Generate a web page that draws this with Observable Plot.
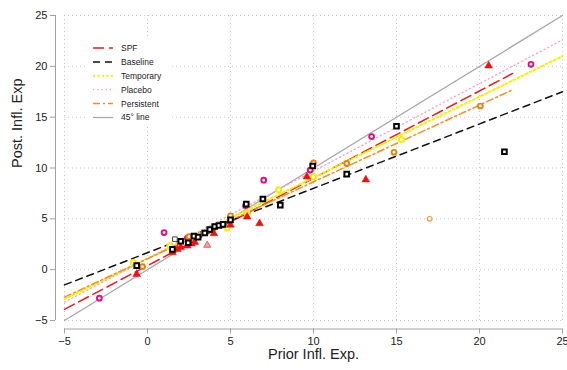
<!DOCTYPE html>
<html><head><meta charset="utf-8">
<script src="https://cdn.jsdelivr.net/npm/d3@7"></script>
<script src="https://cdn.jsdelivr.net/npm/@observablehq/plot@0.6"></script>
<style>
body{margin:0;background:#fff;}
#chart svg{font-family:"Liberation Sans",Arial,sans-serif;}
</style></head><body><div id="chart"></div>
<script>
const xTicks = [-5, 0, 5, 10, 15, 20, 25];
const yTicks = [-5, 0, 5, 10, 15, 20, 25];

// fitted lines (start / end)
const fitSeries = ["SPF", "Baseline", "Temporary", "Placebo", "Persistent", "45° line"];
const fitStartX = [-5, -5, -5, -5, -5, -5];
const fitStartY = [-3.9, -1.5, -2.9, -3.2, -2.7, -5];
const fitEndX = [22, 25, 25, 25, 22, 25];
const fitEndY = [19.3, 17.5, 21.0, 22.6, 17.7, 25];

// points
const spfX = [-0.65, 1.5, 1.8, 2.0, 2.4, 2.65, 2.85, 4.0, 5.0, 6.0, 6.75, 9.6, 13.15, 20.55];
const spfY = [-0.45, 1.7, 2.0, 2.2, 2.35, 2.55, 2.7, 3.55, 4.4, 5.2, 4.55, 9.15, 8.85, 20.05];
const spfFaintX = [3.6];
const spfFaintY = [2.4];

const baselineX = [-0.65, 1.5, 2.0, 2.45, 2.8, 3.05, 3.45, 3.75, 4.05, 4.3, 4.55, 5.0, 5.95, 6.95, 8.0, 9.95, 12.0, 15.0, 21.5];
const baselineY = [0.4, 2.0, 2.8, 2.65, 3.3, 3.2, 3.6, 3.95, 4.25, 4.35, 4.45, 4.9, 6.45, 6.95, 6.35, 10.2, 9.4, 14.1, 11.6];
const baselineFaintX = [1.65];
const baselineFaintY = [3.0];

const temporaryX = [-0.85, 1.35, 4.8, 6.0, 7.9, 10.0, 15.3];
const temporaryY = [0.7, 2.35, 4.1, 5.5, 7.85, 9.15, 12.8];

const placeboX = [-2.9, 1.0, 2.4, 4.5, 5.9, 7.0, 9.8, 13.5, 23.1];
const placeboY = [-2.8, 3.65, 3.1, 4.4, 6.3, 8.8, 9.8, 13.1, 20.2];

const persistentX = [-0.3, 2.5, 5.0, 10.0, 12.0, 14.85, 20.05];
const persistentY = [0.3, 3.25, 5.3, 10.5, 10.45, 11.55, 16.1];
const persistentFaintX = [17.0];
const persistentFaintY = [5.0];

const pts = (xs, ys) => xs.map((x, i) => ({x, y: ys[i]}));

const styles = {
  "SPF": {stroke: "#f01818", strokeWidth: 1.5, strokeDasharray: "11,5"},
  "Baseline": {stroke: "#111", strokeWidth: 1.5, strokeDasharray: "7,5"},
  "Temporary": {stroke: "#f5f000", strokeWidth: 2, strokeDasharray: "2,2.5"},
  "Placebo": {stroke: "#ff9fc0", strokeWidth: 1.3, strokeDasharray: "1.2,3"},
  "Persistent": {stroke: "#ff8a1c", strokeWidth: 1.5, strokeDasharray: "7,3,2,3"},
  "45° line": {stroke: "#a8a8a8", strokeWidth: 1.3, strokeDasharray: null}
};

const lineMarks = fitSeries.map((s, i) => Plot.line(
  [{x: fitStartX[i], y: fitStartY[i]}, {x: fitEndX[i], y: fitEndY[i]}],
  {x: "x", y: "y", ...styles[s]}
));
// draw the 45° line first
lineMarks.unshift(lineMarks.pop());

const chart = Plot.plot({
  width: 567,
  height: 370,
  marginLeft: 64,
  marginRight: 5,
  marginTop: 15,
  marginBottom: 50,
  style: {fontFamily: "Liberation Sans, Arial, sans-serif", fontSize: "11px", color: "#222", background: "#fff"},
  x: {domain: [-5, 25]},
  y: {domain: [-5, 25]},
  marks: [
    Plot.gridX(xTicks, {stroke: "#c8c8c8", strokeOpacity: 1, strokeDasharray: "1,3"}),
    Plot.gridY(yTicks, {stroke: "#c8c8c8", strokeOpacity: 1, strokeDasharray: "1,3"}),
    Plot.ruleX([-5], {dx: -9, stroke: "#a0a0a0", strokeWidth: 1}),
    Plot.ruleY([-5], {dy: 8.5, stroke: "#a0a0a0", strokeWidth: 1}),
    Plot.axisY(yTicks, {dx: -9, tickSize: 5, tickPadding: 3, fontSize: 11, label: null, stroke: "#a0a0a0", fill: "#222"}),
    Plot.axisX(xTicks, {dy: 8.5, tickSize: 5, tickPadding: 3, fontSize: 11, label: null, stroke: "#a0a0a0", fill: "#222"}),
    Plot.text(["Post. Infl. Exp"], {frameAnchor: "left", rotate: -90, dx: -47, fontSize: 14.5, fill: "#222"}),
    Plot.text(["Prior Infl. Exp."], {frameAnchor: "bottom", dy: 38, fontSize: 14.5, fill: "#222"}),
    ...lineMarks,
    Plot.dot(pts(placeboX, placeboY), {x: "x", y: "y", r: 2.4, stroke: "#e8087e", strokeWidth: 1.9, fill: "white"}),
    Plot.dot(pts(persistentX, persistentY), {x: "x", y: "y", r: 2.4, stroke: "#f07c0c", strokeWidth: 1.9, fill: "white"}),
    Plot.dot(pts(persistentFaintX, persistentFaintY), {x: "x", y: "y", r: 2.3, stroke: "#f39a40", strokeWidth: 1.1, fill: "white"}),
    Plot.dot(pts(temporaryX, temporaryY), {x: "x", y: "y", r: 2.6, stroke: "#f5ec00", strokeWidth: 1.9, fill: "white"}),
    Plot.dot(pts(spfX, spfY), {x: "x", y: "y", r: 2.9, symbol: "triangle", fill: "#f01010", stroke: "#f01010", strokeWidth: 0.5}),
    Plot.dot(pts(spfFaintX, spfFaintY), {x: "x", y: "y", r: 2.6, symbol: "triangle", fill: "#f8a0a0", stroke: "#f04040", strokeWidth: 0.8}),
    Plot.dot(pts(baselineX, baselineY), {x: "x", y: "y", r: 2.6, symbol: "square", stroke: "#000", strokeWidth: 2, fill: "white"}),
    Plot.dot(pts(baselineFaintX, baselineFaintY), {x: "x", y: "y", r: 2.6, symbol: "square", stroke: "#333", strokeWidth: 0.9, fill: "white"})
  ]
});

// legend inside plot area
const svg = d3.select(chart);
const lg = svg.append("g").attr("transform", "translate(88,37)");
lg.append("rect").attr("width", 82).attr("height", 88).attr("fill", "white");
fitSeries.forEach((s, i) => {
  const yy = 11 + i * 13.9;
  const st = styles[s];
  lg.append("line").attr("x1", 5).attr("x2", 25).attr("y1", yy).attr("y2", yy)
    .attr("stroke", st.stroke).attr("stroke-width", st.strokeWidth)
    .attr("stroke-dasharray", st.strokeDasharray);
  lg.append("text").attr("x", 33).attr("y", yy).attr("dy", "0.35em")
    .attr("text-anchor", "start")
    .attr("font-size", 8.5).attr("fill", "#222").text(s);
});

document.getElementById("chart").appendChild(chart);
</script>
</body></html>
